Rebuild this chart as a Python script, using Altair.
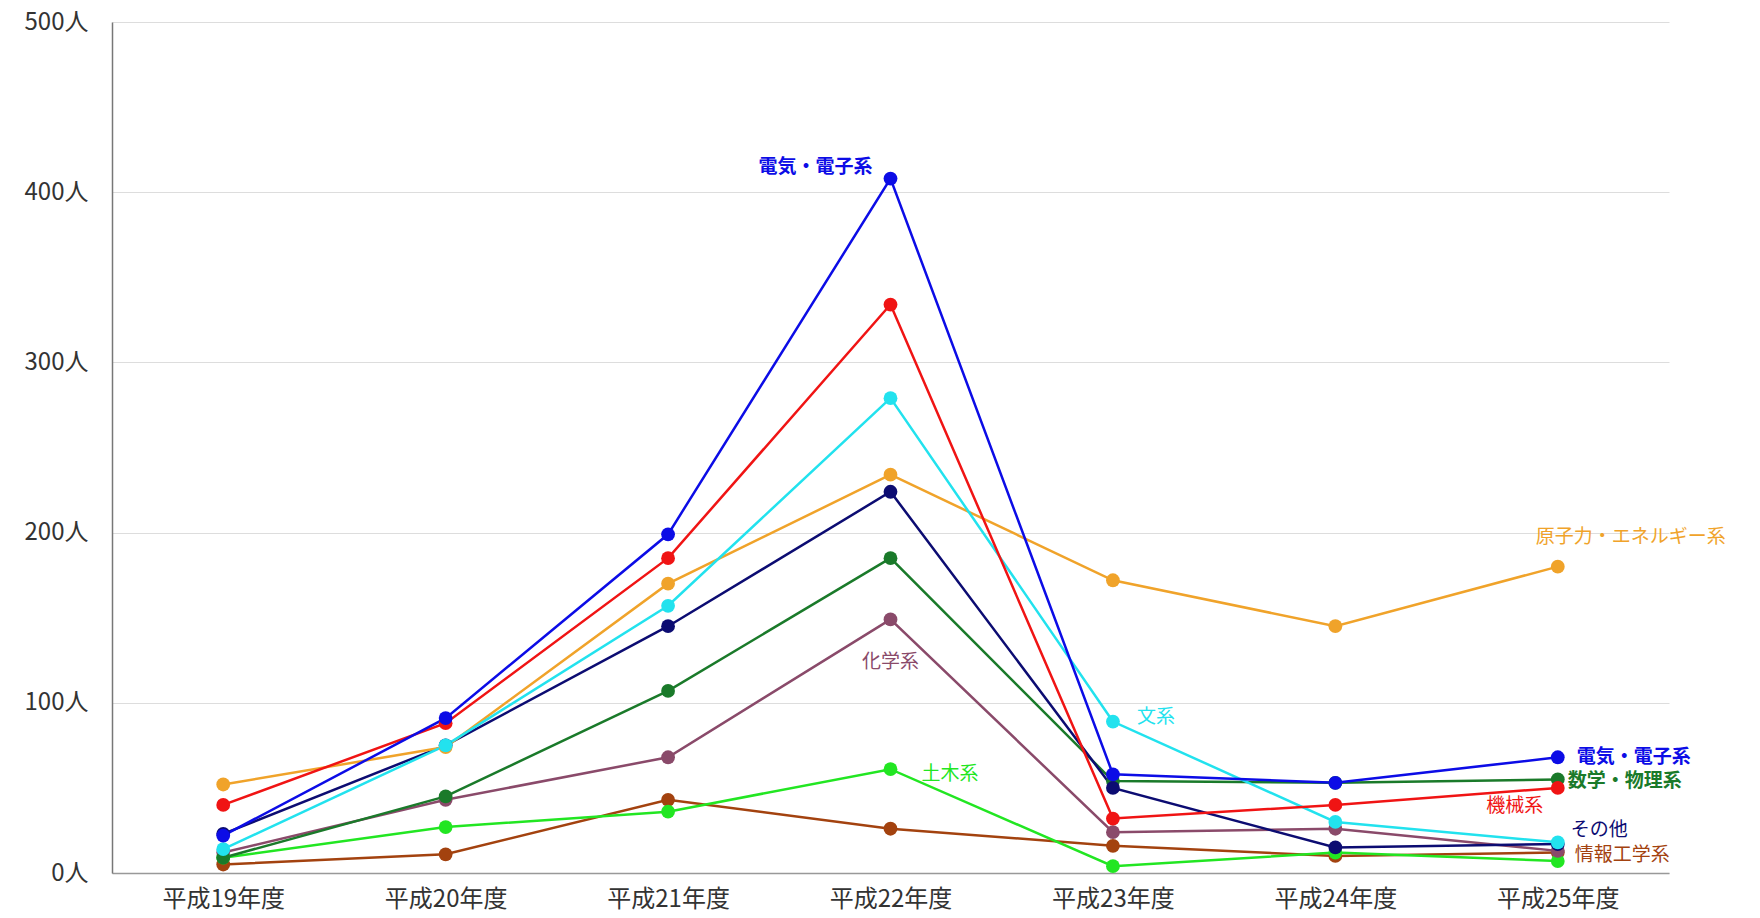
import altair as alt
import pandas as pd

years = ["平成19年度", "平成20年度", "平成21年度", "平成22年度", "平成23年度", "平成24年度", "平成25年度"]

series_names = ["情報工学系", "土木系", "化学系", "数学・物理系", "その他", "原子力・エネルギー系", "文系", "機械系", "電気・電子系"]
series_colors = ["#a3420f", "#22e622", "#8a4a6a", "#1a7a2a", "#0c0c72", "#f0a32a", "#22e2ee", "#f01414", "#0c0ce6"]

v_joho = [5, 11, 43, 26, 16, 10, 12]
v_doboku = [9, 27, 36, 61, 4, 12, 7]
v_kagaku = [12, 43, 68, 149, 24, 26, 13]
v_suugaku = [9, 45, 107, 185, 54, 53, 55]
v_sonota = [23, 75, 145, 224, 50, 15, 17]
v_genshi = [52, 74, 170, 234, 172, 145, 180]
v_bunkei = [14, 75, 157, 279, 89, 30, 18]
v_kikai = [40, 88, 185, 334, 32, 40, 50]
v_denki = [22, 91, 199, 408, 58, 53, 68]

all_values = [v_joho, v_doboku, v_kagaku, v_suugaku, v_sonota, v_genshi, v_bunkei, v_kikai, v_denki]

y_ticks = [0, 100, 200, 300, 400, 500]

# annotations: (series, year, text)
ann_series = ["電気・電子系", "化学系", "土木系", "文系", "原子力・エネルギー系", "電気・電子系", "数学・物理系", "機械系", "その他", "情報工学系"]
ann_years = ["平成22年度", "平成22年度", "平成22年度", "平成23年度", "平成25年度", "平成25年度", "平成25年度", "平成25年度", "平成25年度", "平成25年度"]

# style for each annotation: align, dx, dy, bold
ann_style = [
    ("right", -18, -12, "bold"),
    ("center", 0, 43, "normal"),
    ("left", 31, 5, "normal"),
    ("left", 24, -5, "normal"),
    ("left", -22, -30, "normal"),
    ("left", 19, 0, "bold"),
    ("left", 10, 2, "bold"),
    ("center", -43, 18, "normal"),
    ("left", 13, -14, "normal"),
    ("left", 17, 2, "normal"),
]

rows = []
for name, vals in zip(series_names, all_values):
    for y, v in zip(years, vals):
        rows.append({"year": y, "series": name, "value": v})
df = pd.DataFrame(rows)

FONT = "Noto Sans CJK JP"

x_enc = alt.X("year:N", sort=years, scale=alt.Scale(type="point", padding=0.5),
              axis=alt.Axis(title=None, labelAngle=0, ticks=False, grid=False,
                            labelFontSize=24, labelColor="#333333", labelFont=FONT,
                            labelPadding=14, domainColor="#999999", domainWidth=1.5))
y_enc = alt.Y("value:Q", scale=alt.Scale(domain=[0, 500], nice=False),
              axis=alt.Axis(title=None, values=y_ticks, ticks=False, grid=True,
                            gridColor="#dddddd", gridWidth=1,
                            labelExpr="datum.value + '人'", labelFontSize=24,
                            labelColor="#333333", labelFont=FONT, labelPadding=24,
                            domainColor="#777777", domainWidth=1.5))
color_enc = alt.Color("series:N", scale=alt.Scale(domain=series_names, range=series_colors), legend=None)

base = alt.Chart(df)
lines = base.mark_line(strokeWidth=2.5).encode(x=x_enc, y=y_enc, color=color_enc, detail="series:N")
points = base.mark_point(filled=True, size=190, opacity=1).encode(x=x_enc, y=y_enc, color=color_enc)

layers = [lines, points]
color_map = dict(zip(series_names, series_colors))
for s, yr, st in zip(ann_series, ann_years, ann_style):
    align, dx, dy, weight = st
    t = base.transform_filter(
        (alt.datum.series == s) & (alt.datum.year == yr)
    ).mark_text(align=align, baseline="middle", dx=dx, dy=dy, fontSize=19, font=FONT,
                fontWeight=weight, color=color_map[s]).encode(
        x=alt.X("year:N", sort=years, scale=alt.Scale(type="point", padding=0.5)),
        y=alt.Y("value:Q", scale=alt.Scale(domain=[0, 500], nice=False)),
        text=alt.value(s),
    )
    layers.append(t)

chart = alt.layer(*layers).properties(
    width=1557, height=851,
    autosize=alt.AutoSizeParams(type="none"),
    padding={"left": 112, "top": 22, "right": 91, "bottom": 45},
    background="white",
).configure_view(stroke=None)

chart.save("out.html", embed_options={"renderer": "svg", "actions": False})
